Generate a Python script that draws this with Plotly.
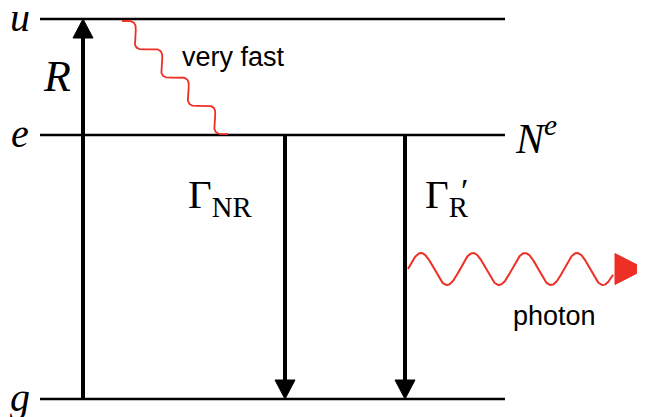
import numpy as np
import plotly.graph_objects as go

# ---- data (diagram in pixel-like units; y grows downward) ----
level_names = ["u", "e", "g"]
level_y = [19, 135, 399]
level_x = [40, 505]

arrow_labels = ["R", "Γ_NR", "Γ'_R"]
arrow_x = [83, 285, 405]
arrow_from = [399, 135, 135]
arrow_to = [19, 399, 399]

fast_start = [122, 21]
fast_end = [228, 134]
fast_periods = 4
fast_amp = 7.5

photon_x = [408, 613]
photon_center = 269
photon_amp = 16
photon_wavelength = 52
photon_tip = 645
photon_head_half = 15.5

BLACK = "#000000"
RED = "#ee2f25"
SERIF = "Liberation Serif, DejaVu Serif, serif"
SANS = "Liberation Sans, Arial, sans-serif"

OFF = 8  # page body margin in the browser

fig = go.Figure()

# energy levels
for y in level_y:
    fig.add_trace(go.Scatter(x=level_x, y=[y, y], mode="lines",
                             line=dict(color=BLACK, width=2.6),
                             hoverinfo="skip", showlegend=False))

# transition arrows
head_len, head_w = 19, 20
for x, y0, y1 in zip(arrow_x, arrow_from, arrow_to):
    d = np.sign(y1 - y0)
    base = y1 - d * head_len
    fig.add_trace(go.Scatter(x=[x, x], y=[y0, base], mode="lines",
                             line=dict(color=BLACK, width=4),
                             hoverinfo="skip", showlegend=False))
    fig.add_trace(go.Scatter(x=[x - head_w / 2, x + head_w / 2, x, x - head_w / 2],
                             y=[base, base, y1, base], mode="lines",
                             fill="toself", fillcolor=BLACK,
                             line=dict(color=BLACK, width=1),
                             hoverinfo="skip", showlegend=False))

# "very fast" squiggle
t = np.linspace(0, 1, 400)
dx = fast_end[0] - fast_start[0]
dy = fast_end[1] - fast_start[1]
L = np.hypot(dx, dy)
nx, ny = dy / L, -dx / L
s = fast_amp * np.sin(2 * np.pi * fast_periods * t)
fig.add_trace(go.Scatter(x=fast_start[0] + t * dx + s * nx,
                         y=fast_start[1] + t * dy + s * ny,
                         mode="lines", line=dict(color=RED, width=1.8),
                         hoverinfo="skip", showlegend=False))

# photon wave
px = np.linspace(photon_x[0], photon_x[1], 400)
py = photon_center - photon_amp * np.sin(2 * np.pi * (px - photon_x[0]) / photon_wavelength)
fig.add_trace(go.Scatter(x=px, y=py, mode="lines",
                         line=dict(color=RED, width=2),
                         hoverinfo="skip", showlegend=False))
fig.add_trace(go.Scatter(x=[photon_x[1] + 2, photon_x[1] + 2, photon_tip, photon_x[1] + 2],
                         y=[photon_center - photon_head_half, photon_center + photon_head_half,
                            photon_center, photon_center - photon_head_half],
                         mode="lines", fill="toself", fillcolor=RED,
                         line=dict(color=RED, width=1),
                         hoverinfo="skip", showlegend=False))

ann = []
def txt(x, y, s, size, fam=SERIF, xa="center", ya="middle"):
    ann.append(dict(x=x, y=y, text=s, showarrow=False, xref="x", yref="y",
                    xanchor=xa, yanchor=ya, font=dict(family=fam, size=size, color=BLACK)))

for name, y in zip(level_names, level_y):
    txt(20, y - 2, "<i>%s</i>" % name, 40)
txt(57, 76, "<i>R</i>", 44)
txt(513, 135, "<i>N</i><sup><i>e</i></sup>", 42, xa="left")
txt(186, 197, "Γ<sub>NR</sub>", 41, xa="left")
txt(423, 197, "Γ<sub>R</sub>", 41, xa="left")
txt(464, 190, "′", 34)
txt(180, 57, "very fast", 27, fam=SANS, xa="left")
txt(511, 316, "photon", 27, fam=SANS, xa="left")

H = 417 - OFF
fig.update_layout(
    width=645 - OFF, height=H,
    margin=dict(l=0, r=0, t=0, b=0),
    paper_bgcolor="white", plot_bgcolor="white",
    xaxis=dict(range=[OFF, 645], visible=False, fixedrange=True),
    yaxis=dict(range=[OFF + H, OFF], visible=False, fixedrange=True),
    annotations=ann, showlegend=False,
)
fig.write_html("out.html")
